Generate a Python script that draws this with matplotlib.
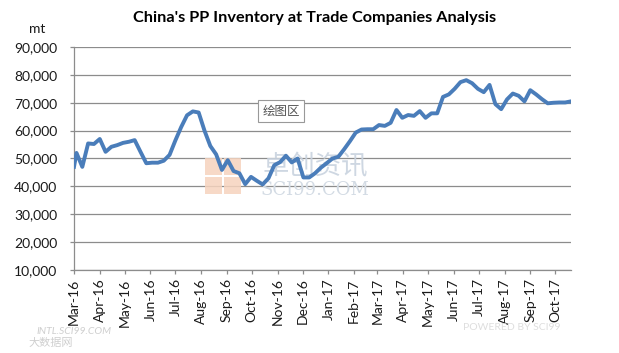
import datetime as dt
import matplotlib
matplotlib.use('Agg')
import matplotlib.pyplot as plt
import matplotlib.dates as mdates
from matplotlib.patches import Rectangle

plt.rcParams['font.family'] = ['Lato', 'Noto Sans CJK SC', 'DejaVu Sans']

# weekly inventory (mt), first point on Mar 1 then weekly from Mar 4 2016
first_date = dt.date(2016, 3, 1)
week_start = dt.date(2016, 3, 4)
first_value = 47000
weekly = [52000, 47000, 55400, 55200, 57000, 52400, 54200, 54800, 55600, 56000,
          56600, 52400, 48300, 48500, 48500, 49200, 51300, 56500, 61300, 65500,
          66900, 66500, 60000, 54500, 51500, 45900, 49400, 45500, 44700, 40800,
          43400, 42000, 40700, 42900, 47600, 48700, 51000, 48600, 50000, 43200,
          43200, 44700, 46700, 48300, 50000, 50600, 53300, 56200, 59300, 60400,
          60500, 60500, 62000, 61700, 62800, 67400, 64600, 65600, 65300, 67000,
          64600, 66200, 66200, 72100, 73000, 75000, 77400, 78100, 77000, 75000,
          73800, 76400, 69500, 67700, 71200, 73300, 72500, 70500, 74500, 73000,
          71300, 69800, 70000, 70100, 70100, 70500]

dates = [first_date] + [week_start + dt.timedelta(days=7 * k) for k in range(len(weekly))]
values = [first_value] + weekly

title = "China's PP Inventory at Trade Companies Analysis"
unit = 'mt'
yticks = list(range(10000, 90001, 10000))

W, H = 619, 353
fig = plt.figure(figsize=(W / 100, H / 100), dpi=100)
ax = fig.add_axes([74 / W, 1 - 270 / H, 497 / W, 223 / H])

ax.plot(dates, values, color='#4a7dba', linewidth=2.8, solid_joinstyle='round', zorder=3)

ax.set_ylim(10000, 90000)
ax.set_yticks(yticks)
ax.set_yticklabels([f'{v:,}' for v in yticks])
ax.set_xlim(first_date, dates[-1])
ax.xaxis.set_major_locator(mdates.MonthLocator())
ax.xaxis.set_major_formatter(mdates.DateFormatter('%b-%y'))
for lab in ax.get_xticklabels():
    lab.set_rotation(90)

ax.grid(axis='y', color='#8c8c8c', linewidth=0.9, zorder=1)
ax.set_axisbelow(True)
for s in ['top', 'right']:
    ax.spines[s].set_visible(False)
for s in ['left', 'bottom']:
    ax.spines[s].set_color('#8c8c8c')
    ax.spines[s].set_linewidth(0.9)
ax.tick_params(axis='both', colors='#8c8c8c', labelcolor='#1a1a1a', labelsize=10, length=3, width=0.9)
ax.tick_params(axis='y', pad=9)
ax.tick_params(axis='x', pad=3)

fig.text(315 / W, 1 - 18 / H, title, ha='center', va='center', fontsize=11.7, fontweight='bold')
fig.text(37 / W, 1 - 29 / H, unit, ha='center', va='center', fontsize=10, color='#1a1a1a')

# watermark (above grid, below the line)
for (x0, y0) in [(205, 158), (224, 158), (205, 177), (224, 177)]:
    ax.add_patch(Rectangle((x0 / W, 1 - (y0 + 17) / H), 17 / W, 17 / H, transform=fig.transFigure,
                           facecolor='#f6d3be', edgecolor='none', alpha=0.85, zorder=2, clip_on=False))
ax.text(315 / W, 1 - 167 / H, '卓创资讯', transform=fig.transFigure, ha='center', va='center',
        fontsize=19, color='#c9d3df', alpha=0.9, zorder=2)
ax.text(315 / W, 1 - 190 / H, 'SCI99.COM', transform=fig.transFigure, ha='center', va='center',
        fontsize=13, color='#d3dbe4', family='DejaVu Serif', zorder=2)

# plot-area tooltip
fig.text(281 / W, 1 - 111 / H, '绘图区', ha='center', va='center', fontsize=9, color='#555555',
         family=['Noto Sans CJK SC'],
         bbox=dict(boxstyle='square,pad=0.35', facecolor='white', edgecolor='#999999', linewidth=0.8))

fig.text(36 / W, 1 - 331 / H, 'INTL.SCI99.COM', ha='left', va='center', fontsize=7.5,
         color='#cfcfcf', style='italic')
fig.text(28 / W, 1 - 343 / H, '大数据网', ha='left', va='center', fontsize=8, color='#cfcfcf',
         family=['Noto Sans CJK SC'])
fig.text(512 / W, 1 - 328 / H, 'POWERED BY SCI99', ha='center', va='center', fontsize=7.5,
         color='#dedede')

fig.savefig('out.png', dpi=100)
